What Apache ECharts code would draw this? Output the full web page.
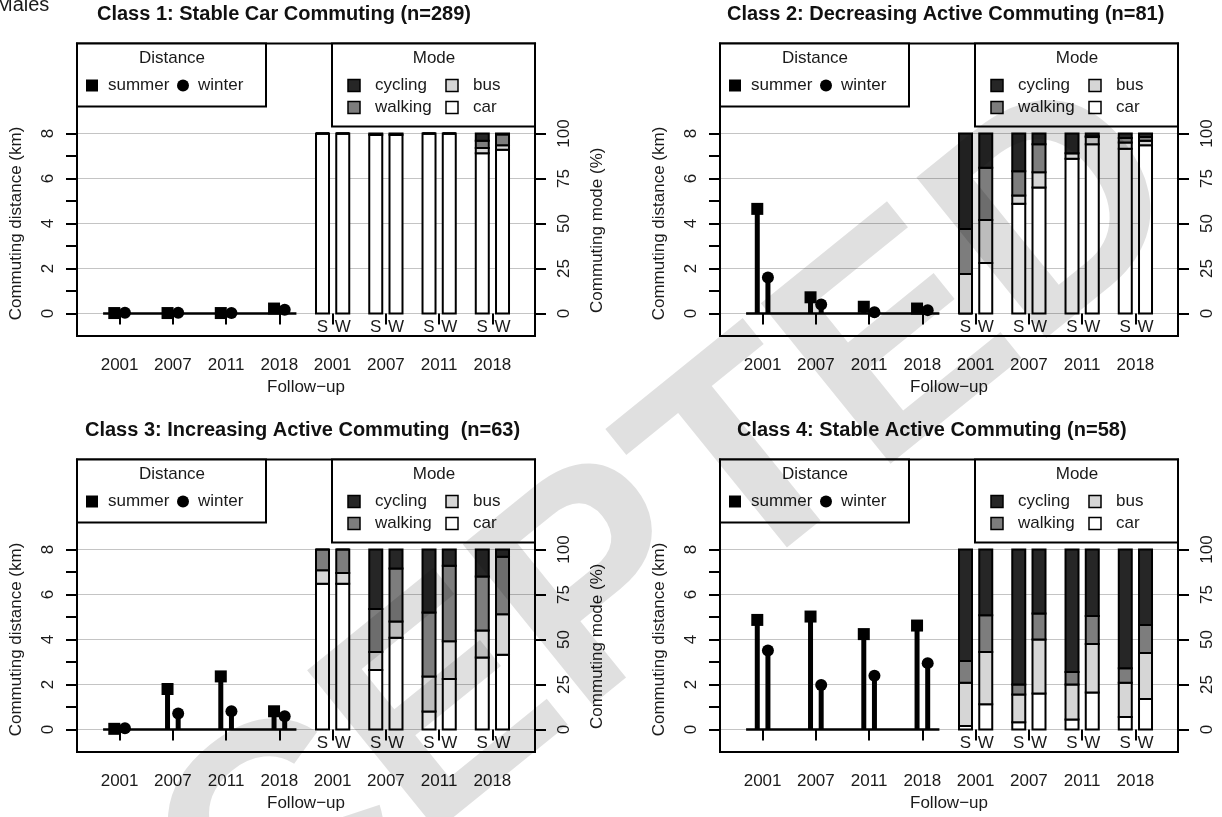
<!DOCTYPE html>
<html><head><meta charset="utf-8">
<script src="https://cdn.jsdelivr.net/npm/echarts@6/dist/echarts.min.js"></script>
<style>html,body{margin:0;padding:0;background:#fff}#c{width:1222px;height:817px}</style>
</head><body><div id="c"></div>
<script>
// ---- data ----
const classTitles = [
  'Class 1: Stable Car Commuting (n=289)',
  'Class 2: Decreasing Active Commuting (n=81)',
  'Class 3: Increasing Active Commuting  (n=63)',
  'Class 4: Stable Active Commuting (n=58)'
];
const years = ['2001', '2007', '2011', '2018'];
const xTickLabels = ['2001', '2007', '2011', '2018', '2001', '2007', '2011', '2018'];
const seasons = ['S', 'W'];
const kmTicks = [0, 1, 2, 3, 4, 5, 6, 7, 8];
const kmLabels = [0, 2, 4, 6, 8];
const pctTicks = [0, 25, 50, 75, 100];

// commuting distance (km), per class, per follow-up year
const summerKm = [
  [0.02, 0.02, 0.02, 0.22],
  [4.65, 0.72, 0.30, 0.22],
  [0.03, 1.80, 2.36, 0.81],
  [4.87, 5.02, 4.24, 4.62]
];
const winterKm = [
  [0.03, 0.03, 0.02, 0.17],
  [1.60, 0.40, 0.06, 0.15],
  [0.06, 0.71, 0.81, 0.59],
  [3.51, 1.98, 2.39, 2.95]
];
// commuting mode (%), per class, bars: 2001 S, 2001 W, 2007 S, 2007 W, 2011 S, 2011 W, 2018 S, 2018 W
const carPct = [
  [100, 100, 99.3, 99.3, 100, 100, 89, 91],
  [0, 28, 61, 70, 86, 94, 91.5, 93.5],
  [81, 81, 33, 51, 10, 28, 40, 41.5],
  [2, 14, 4, 20, 5.5, 20.5, 7, 17]
];
const busPct = [
  [0, 0, 0, 0, 0, 0, 3, 2.5],
  [22, 24, 4.5, 8.5, 3, 4, 3.5, 2.5],
  [7.5, 6, 10, 9, 19.5, 21, 15, 22.5],
  [24, 29, 15.5, 30, 19.5, 27, 19, 25.5]
];
const walkingPct = [
  [0, 0, 0, 0, 0, 0, 4, 6],
  [25, 29, 13.5, 15.5, 0, 0.5, 2.5, 2],
  [11.5, 13, 24, 29.5, 35.5, 42, 30, 32],
  [12, 20.5, 5.5, 14.5, 7, 15.5, 8, 15.5]
];
const cyclingPct = [
  [0, 0, 0.7, 0.7, 0, 0, 4, 0.5],
  [53, 19, 21, 6, 11, 1.5, 2.5, 2],
  [0, 0, 33, 10.5, 35, 9, 15, 4],
  [62, 36.5, 75, 35.5, 68, 37, 66, 42]
];

// ---- layout ----
const FONT = "'Liberation Sans', Arial, sans-serif";
const TXT = '#1a1a1a';
const FS = 17;
const gridLeft = [77, 720, 77, 720];
const gridTop = [43.5, 43.5, 459.5, 459.5];
const GW = 458, GH = 292.5;
const kmMin = -1, kmMax = 12, pctPerKm = 12.5;
const titleLeft = [97, 727, 85, 737];
const stemOff = 0.1, barOff = 0.19;
const modeNames = ['car', 'bus', 'walking', 'cycling'];
const modeArrays = [carPct, busPct, walkingPct, cyclingPct];
const modeColors = { car: '#ffffff', bus: '#d6d6d6', walking: '#7d7d7d', cycling: '#262626' };

const grids = [], xAxes = [], yAxes = [], series = [], graphics = [];

function kmToY(g, km) { return gridTop[g] + (kmMax - km) / (kmMax - kmMin) * GH; }

for (let g = 0; g < 4; g++) {
  grids.push({ left: gridLeft[g], top: gridTop[g], width: GW, height: GH, show: true,
    borderColor: '#000', borderWidth: 2, backgroundColor: 'transparent' });
  xAxes.push({ gridIndex: g, type: 'value', min: 0.2, max: 8.8,
    axisLine: { show: false },
    axisTick: { show: true, customValues: [1, 2, 3, 4, 5, 6, 7, 8], length: 11, lineStyle: { color: '#000', width: 2 } },
    axisLabel: { customValues: [1, 2, 3, 4, 5, 6, 7, 8], formatter: v => xTickLabels[Math.round(v) - 1],
      fontSize: FS, margin: 21, color: TXT, fontFamily: FONT },
    splitLine: { show: false },
    name: 'Follow\u2212up', nameLocation: 'middle', nameGap: 43,
    nameTextStyle: { fontSize: FS, color: TXT, fontFamily: FONT } });
  yAxes.push({ gridIndex: g, type: 'value', min: kmMin, max: kmMax, position: 'left',
    axisLine: { show: true, lineStyle: { color: '#000', width: 2 } },
    axisTick: { show: true, customValues: kmTicks, length: 11, lineStyle: { color: '#000', width: 2 } },
    axisLabel: { customValues: kmLabels, rotate: 90, margin: 20, fontSize: FS, color: TXT, fontFamily: FONT },
    splitLine: { show: false } });
  yAxes.push({ gridIndex: g, type: 'value', min: kmMin * pctPerKm, max: kmMax * pctPerKm, position: 'right',
    axisLine: { show: true, lineStyle: { color: '#000', width: 2 } },
    axisTick: { show: true, customValues: pctTicks, length: 11, lineStyle: { color: '#000', width: 2 } },
    axisLabel: { customValues: pctTicks, rotate: 90, margin: 21, fontSize: FS, color: TXT, fontFamily: FONT },
    splitLine: { show: true, lineStyle: { color: '#c4c4c4', width: 1 } } });

  const yKm = 2 * g, yPct = 2 * g + 1;
  const stemData = [];
  summerKm[g].forEach((v, i) => stemData.push([i + 1 - stemOff, v]));
  winterKm[g].forEach((v, i) => stemData.push([i + 1 + stemOff, v]));
  series.push({ type: 'custom', xAxisIndex: g, yAxisIndex: yKm, data: stemData, z: 3,
    encode: { x: 0, y: 1 },
    renderItem: (params, api) => {
      const p0 = api.coord([api.value(0), 0]);
      const p1 = api.coord([api.value(0), api.value(1)]);
      return { type: 'rect', shape: { x: p0[0] - 2.5, y: p1[1], width: 5, height: p0[1] - p1[1] },
        style: { fill: '#000' } };
    },
    markLine: { silent: true, symbol: 'none', label: { show: false },
      lineStyle: { color: '#000', width: 2.5, type: 'solid' },
      data: [[{ coord: [1 - 0.31, 0] }, { coord: [4 + 0.32, 0] }]] } });
  series.push({ type: 'scatter', xAxisIndex: g, yAxisIndex: yKm, symbol: 'rect', symbolSize: 12, z: 4,
    itemStyle: { color: '#000', opacity: 1 }, data: summerKm[g].map((v, i) => [i + 1 - stemOff, v]) });
  series.push({ type: 'scatter', xAxisIndex: g, yAxisIndex: yKm, symbol: 'circle', symbolSize: 12, z: 4,
    itemStyle: { color: '#000', opacity: 1 }, data: winterKm[g].map((v, i) => [i + 1 + stemOff, v]) });

  // stacked mode bars (stack bases accumulated from the mode arrays)
  const barX = k => 5 + Math.floor(k / 2) + (k % 2 ? barOff : -barOff);
  modeArrays.forEach((arr, mi) => {
    const name = modeNames[mi];
    const data = arr[g].map((v, k) => {
      let base = 0;
      for (let j = 0; j < mi; j++) base += modeArrays[j][g][k];
      return [barX(k), base, base + v, k];
    });
    series.push({ type: 'custom', name, xAxisIndex: g, yAxisIndex: yPct, data, z: 2,
      encode: { x: 0, y: [1, 2] },
      renderItem: (params, api) => {
        const x = api.value(0);
        const p0 = api.coord([x, api.value(1)]);
        const p1 = api.coord([x, api.value(2)]);
        const children = [{ type: 'rect', shape: { x: p0[0] - 6.5, y: p1[1], width: 13, height: p0[1] - p1[1] },
          style: { fill: modeColors[name], stroke: '#000', lineWidth: 2 } }];
        if (mi === 0) {
          children.push({ type: 'text', x: p0[0], y: p0[1] + 5,
            style: { text: seasons[api.value(3) % 2], font: FS + 'px ' + FONT, fill: TXT, align: 'center', verticalAlign: 'top' } });
        }
        return { type: 'group', children };
      } });
  });

  // titles and axis titles
  const gl = gridLeft[g], gt = gridTop[g];
  graphics.push({ type: 'text', x: titleLeft[g], y: gt - 29.5, z: 100,
    style: { text: classTitles[g], font: 'bold 20px ' + FONT, fill: '#111', align: 'left', verticalAlign: 'middle' } });
  graphics.push({ type: 'text', x: gl - 61, y: kmToY(g, 4), rotation: Math.PI / 2, z: 100,
    style: { text: 'Commuting distance (km)', font: FS + 'px ' + FONT, fill: TXT, align: 'center', verticalAlign: 'middle' } });
  graphics.push({ type: 'text', x: gl + GW + 62, y: kmToY(g, 3.7), rotation: Math.PI / 2, z: 100,
    style: { text: 'Commuting mode (%)', font: FS + 'px ' + FONT, fill: TXT, align: 'center', verticalAlign: 'middle' } });

  // Distance legend
  graphics.push({ type: 'rect', z: 100, shape: { x: gl, y: gt, width: 189, height: 63 },
    style: { fill: '#fff', stroke: '#000', lineWidth: 2 } });
  graphics.push({ type: 'text', z: 101, x: gl + 95, y: gt + 15,
    style: { text: 'Distance', font: FS + 'px ' + FONT, fill: TXT, align: 'center', verticalAlign: 'middle' } });
  graphics.push({ type: 'rect', z: 101, shape: { x: gl + 9, y: gt + 36, width: 12, height: 12 }, style: { fill: '#000' } });
  graphics.push({ type: 'text', z: 101, x: gl + 31, y: gt + 42,
    style: { text: 'summer', font: FS + 'px ' + FONT, fill: TXT, align: 'left', verticalAlign: 'middle' } });
  graphics.push({ type: 'circle', z: 101, shape: { cx: gl + 106, cy: gt + 42, r: 6 }, style: { fill: '#000' } });
  graphics.push({ type: 'text', z: 101, x: gl + 121, y: gt + 42,
    style: { text: 'winter', font: FS + 'px ' + FONT, fill: TXT, align: 'left', verticalAlign: 'middle' } });

  // Mode legend
  graphics.push({ type: 'rect', z: 100, shape: { x: gl + 255, y: gt, width: GW - 255, height: 83 },
    style: { fill: '#fff', stroke: '#000', lineWidth: 2 } });
  graphics.push({ type: 'text', z: 101, x: gl + 357, y: gt + 15,
    style: { text: 'Mode', font: FS + 'px ' + FONT, fill: TXT, align: 'center', verticalAlign: 'middle' } });
  const legItems = [['cycling', 277, 42], ['walking', 277, 64], ['bus', 375, 42], ['car', 375, 64]];
  legItems.forEach(([name, cx, cy]) => {
    graphics.push({ type: 'rect', z: 101, shape: { x: gl + cx - 6, y: gt + cy - 6, width: 12, height: 12 },
      style: { fill: modeColors[name], stroke: '#000', lineWidth: 1.5 } });
    graphics.push({ type: 'text', z: 101, x: gl + cx + 21, y: gt + cy,
      style: { text: name, font: FS + 'px ' + FONT, fill: TXT, align: 'left', verticalAlign: 'middle' } });
  });
}

graphics.push({ type: 'text', x: -4, y: 15, z: 100,
  style: { text: 'Males', font: '20px ' + FONT, fill: TXT, align: 'left', verticalAlign: 'bottom' } });

// journal watermark, drawn over the figure
graphics.push({ type: 'text', x: 1147, y: 150, rotation: 0.68, z: 200, silent: true,
  style: { text: 'ACCEPTED', font: 'bold 300px ' + FONT, fill: 'rgba(0,0,0,0.12)', align: 'right', verticalAlign: 'middle' } });

const chart = echarts.init(document.getElementById('c'), null, { renderer: 'canvas' });
chart.setOption({
  animation: false,
  backgroundColor: '#fff',
  grid: grids, xAxis: xAxes, yAxis: yAxes, series, graphic: graphics
});
</script></body></html>
